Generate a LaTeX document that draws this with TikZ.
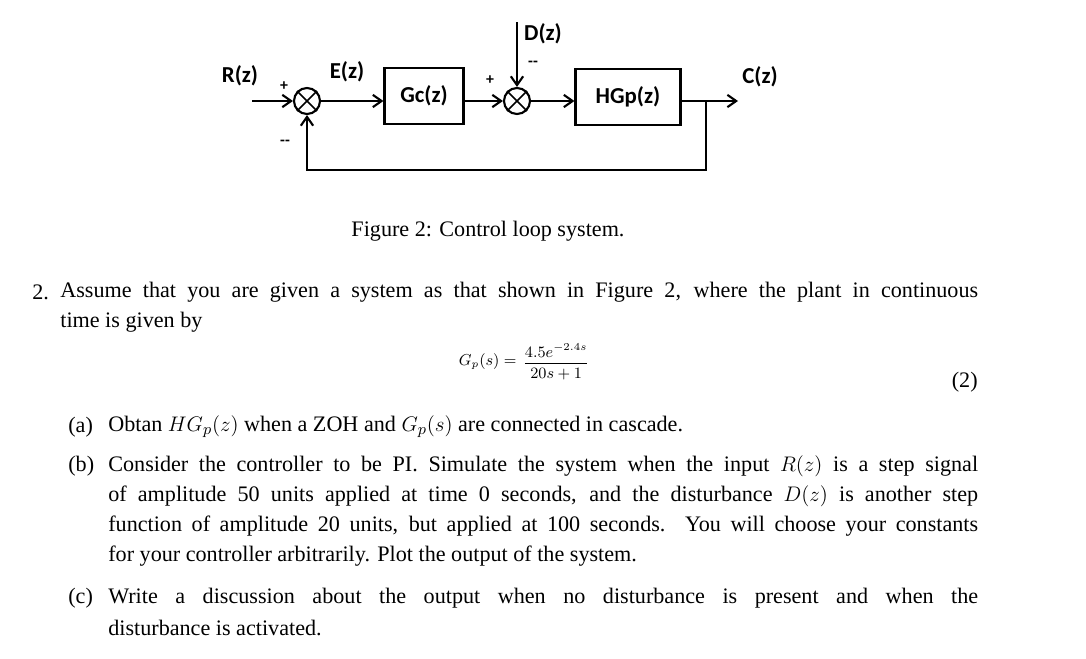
\documentclass[tikz,border=0pt]{standalone}
\usepackage{amsmath}
\usepackage{fontspec}
\setmainfont{Liberation Serif}
\newfontfamily\diagfont{Carlito}
\usetikzlibrary{arrows.meta,positioning}

\begin{document}
\begin{tikzpicture}[x=0.02cm,y=-0.02cm,
        blk/.style={draw,line width=1.2pt,minimum width=1.58cm,minimum height=1.12cm,
                    font=\diagfont\bfseries\fontsize{13}{15}\selectfont},
        sumnode/.style={draw,circle,line width=1.2pt,minimum size=0.52cm,inner sep=0pt},
        lbl/.style={font=\diagfont\bfseries\fontsize{13}{15}\selectfont,inner sep=0pt},
        sgn/.style={font=\diagfont\bfseries\small,inner sep=0pt},
        sig/.style={line width=1.2pt,-{Straight Barb[length=5pt,width=7pt]}},
        txt/.style={anchor=west,inner sep=0pt,font=\fontsize{12.6}{15}\selectfont},
        every node/.style={font=\small}]
  \useasboundingbox (0,0) rectangle (1086,659);

  % block diagram
  \node[sumnode] (s1) at (307,101) {};
  \draw[line width=1pt] (s1.north west) -- (s1.south east) (s1.north east) -- (s1.south west);
  \node[blk] (gc) at (424,96) {Gc(z)};
  \node[sumnode] (s2) at (517,101) {};
  \draw[line width=1pt] (s2.north west) -- (s2.south east) (s2.north east) -- (s2.south west);
  \node[blk,minimum width=2.1cm] (hgp) at (628,97) {HGp(z)};
  \coordinate (rin) at (252,101);
  \coordinate (cout) at (738,101);
  \coordinate (tap) at (706,101);
  \coordinate (din) at (517,22);
  \coordinate (fb) at (307,170);

  \draw[sig] (rin) -- (s1);
  \draw[sig] (s1) -- (s1 -| gc.west);
  \draw[sig] (s2 -| gc.east) -- (s2);
  \draw[sig] (s2) -- (s2 -| hgp.west);
  \draw[sig] (s2 -| hgp.east) -- (cout);
  \draw[sig] (din) -- (s2);
  \draw[sig] (tap) |- (fb) -- (s1);

  \node[lbl] (rl) at (240,76) {R(z)};
  \node[lbl] (el) at (347,72) {E(z)};
  \node[lbl] (cl) at (760,77) {C(z)};
  \node[lbl] (dl) at (543,34) {D(z)};
  \node[sgn] at (284,86) {+};
  \node[sgn] at (285,143) {--};
  \node[sgn] at (490,80) {+};
  \node[sgn] at (533,64) {--};

  \node[font=\fontsize{12.6}{15}\selectfont] (cap) at (488,231) {Figure 2: Control loop system.};

  % question text
  \node[txt] (n2) at (32,292) {2.};
  \node[txt] (l1) at (60,292) {\makebox[18.36cm][s]{Assume that you are given a system as that shown in Figure 2, where the plant in continuous}};
  \node[txt] (l2) at (60,322) {time is given by};
  \node[anchor=east,inner sep=0pt] (gp) at (517,362) {$G_p(s) =$};
  \node[anchor=west,inner sep=2pt] (fr) at (519,362) {$\dfrac{4.5e^{-2.4s}}{20s+1}$};
  \node[txt,anchor=east] (eq) at (978,382) {(2)};

  \node[txt] (a0) at (68,427) {(a)};
  \node[txt] (a1) at (108,427) {Obtan $HG_p(z)$ when a ZOH and $G_p(s)$ are connected in cascade.};
  \node[txt] (b0) at (68,466) {(b)};
  \node[txt] (b1) at (108,466) {\makebox[17.4cm][s]{Consider the controller to be PI. Simulate the system when the input $R(z)$ is a step signal}};
  \node[txt] (b2) at (108,496) {\makebox[17.4cm][s]{of amplitude 50 units applied at time 0 seconds, and the disturbance $D(z)$ is another step}};
  \node[txt] (b3) at (108,526) {\makebox[17.4cm][s]{function of amplitude 20 units, but applied at 100 seconds. You will choose your constants}};
  \node[txt] (b4) at (108,556) {for your controller arbitrarily. Plot the output of the system.};
  \node[txt] (c0) at (68,598) {(c)};
  \node[txt] (c1) at (108,598) {\makebox[17.4cm][s]{Write a discussion about the output when no disturbance is present and when the}};
  \node[txt] (c2) at (108,628) {disturbance is activated.};
\end{tikzpicture}
\end{document}
